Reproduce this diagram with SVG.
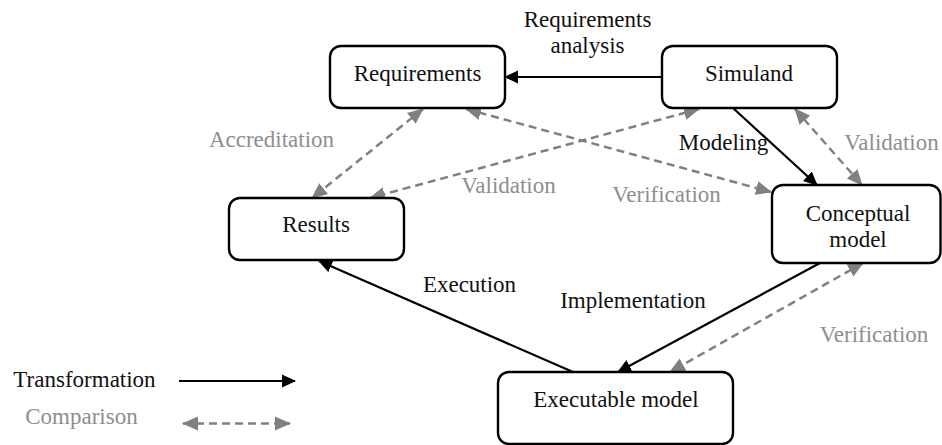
<svg xmlns="http://www.w3.org/2000/svg" width="942" height="445" viewBox="0 0 942 445">
<style>
text{font-family:"Liberation Serif","DejaVu Serif",serif;font-size:23px;text-anchor:middle;fill:#111}
.g{fill:#8e8e8e}
.box{fill:#fff;stroke:#000;stroke-width:2.4}
.t{stroke:#000;stroke-width:2.2;fill:none}
.c{stroke:#808080;stroke-width:2.5;fill:none;stroke-dasharray:8 5}
</style>
<defs>
<marker id="ab" markerUnits="userSpaceOnUse" markerWidth="14" markerHeight="14" refX="13" refY="7" orient="auto"><path d="M0,0.5 L14,7 L0,13.5 z" fill="#000"/></marker>
<marker id="ag" markerUnits="userSpaceOnUse" markerWidth="16" markerHeight="16" refX="15" refY="8" orient="auto-start-reverse"><path d="M0,1 L16,8 L0,15 z" fill="#808080"/></marker>
</defs>
<g id="connectors">
<line class="t" x1="662" y1="77" x2="505" y2="77" marker-end="url(#ab)"/>
<line class="t" x1="733" y1="108" x2="817" y2="185" marker-end="url(#ab)"/>
<line class="t" x1="820" y1="263" x2="618" y2="372" marker-end="url(#ab)"/>
<line class="t" x1="573" y1="372" x2="319" y2="261" marker-end="url(#ab)"/>
<line class="c" x1="423" y1="109" x2="312" y2="198" marker-start="url(#ag)" marker-end="url(#ag)"/>
<line class="c" x1="699" y1="109" x2="370" y2="198" marker-start="url(#ag)" marker-end="url(#ag)"/>
<line class="c" x1="466" y1="109" x2="771" y2="192" marker-start="url(#ag)" marker-end="url(#ag)"/>
<line class="c" x1="795" y1="109" x2="862" y2="185" marker-start="url(#ag)" marker-end="url(#ag)"/>
<line class="c" x1="863" y1="263" x2="670" y2="372" marker-start="url(#ag)" marker-end="url(#ag)"/>
<line class="t" x1="179" y1="381" x2="295" y2="381" marker-end="url(#ab)"/>
<line class="c" x1="183" y1="423.5" x2="290" y2="423.5" stroke-dasharray="6 5" marker-start="url(#ag)" marker-end="url(#ag)"/>
</g>
<g id="requirements"><rect class="box" x="330" y="46" width="175" height="62" rx="11"/><text x="417.5" y="80.7">Requirements</text></g>
<g id="simuland"><rect class="box" x="662" y="46" width="175" height="62" rx="11"/><text x="749" y="80.7">Simuland</text></g>
<g id="results"><rect class="box" x="229" y="198" width="175" height="62" rx="11"/><text x="316" y="231.7">Results</text></g>
<g id="conceptual"><rect class="box" x="772" y="185" width="168.5" height="78" rx="11"/><text x="858" y="220.7">Conceptual</text><text x="858" y="247.3">model</text></g>
<g id="executable"><rect class="box" x="498" y="372" width="235" height="72" rx="11"/><text x="616" y="406.7">Executable model</text></g>
<g id="labels">
<text x="587.5" y="26.7">Requirements</text><text x="587.5" y="53.3">analysis</text>
<text class="g" x="271.5" y="146.5">Accreditation</text>
<text class="g" x="508.5" y="193.3">Validation</text>
<text x="723.5" y="150">Modeling</text>
<text class="g" x="891.5" y="150">Validation</text>
<text class="g" x="666.5" y="201.7">Verification</text>
<text x="469.5" y="292">Execution</text>
<text x="633" y="308.3">Implementation</text>
<text class="g" x="874" y="341.7">Verification</text>
<text x="84.5" y="386.7">Transformation</text>
<text class="g" x="81.5" y="424">Comparison</text>
</g>
</svg>
